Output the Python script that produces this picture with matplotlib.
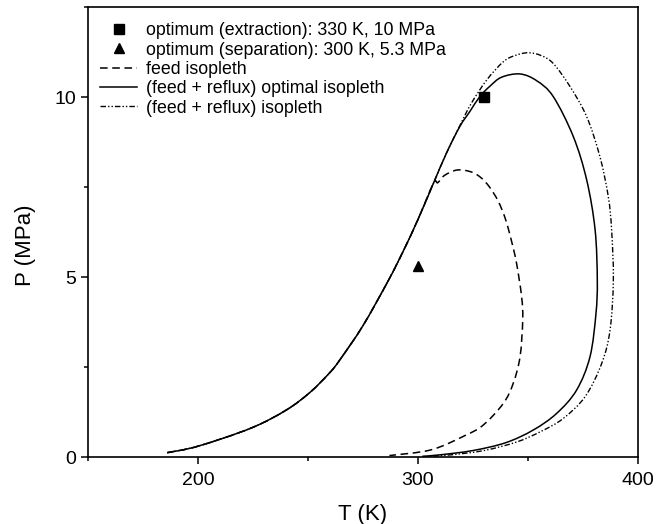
import numpy as np
import matplotlib
matplotlib.use("Agg")
from matplotlib import pyplot as plt
from matplotlib.lines import Line2D
from matplotlib.path import Path
from matplotlib.patches import PathPatch
from matplotlib.ticker import MultipleLocator

plt.rcParams['font.family'] = ['Liberation Sans', 'DejaVu Sans']

# shared branch (low T side)
t_left = [186, 200, 224, 240, 251, 260, 264.5, 275, 286.5, 293.3, 300, 307]
p_left = [0.12, 0.3, 0.8, 1.3, 1.8, 2.35, 2.7, 3.65, 4.9, 5.72, 6.6, 7.6]

# feed isopleth (after it leaves the shared branch)
t_feed = [309, 312, 317.6, 323.6, 328.2, 332.5, 336.5, 339.8, 342.5, 344.8, 347.1,
          347.6, 346.4, 343.3, 338.8, 329.7, 321.5, 306, 287]
p_feed = [7.62, 7.82, 7.97, 7.93, 7.78, 7.5, 7.1, 6.6, 6.0, 5.38, 4.45,
          3.81, 2.79, 2.05, 1.49, 0.89, 0.6, 0.2, 0.04]

# (feed + reflux) optimal isopleth
t_opt = [313, 319, 323.6, 328.2, 332.7, 338, 346.4, 354, 361.5, 370.6, 376.7,
         380.5, 381.5, 380.9, 378.2, 372.1, 363, 352.4, 340, 325, 310, 302]
p_opt = [8.45, 9.18, 9.6, 10.02, 10.3, 10.55, 10.64, 10.45, 10.01, 8.9, 7.69,
         6.31, 4.92, 3.99, 2.79, 1.86, 1.21, 0.75, 0.4, 0.18, 0.06, 0.02]

# (feed + reflux) isopleth
t_ref = [313, 319, 324, 331.2, 338.8, 344, 350.1, 356, 361.5, 369.1, 376.7,
         382.7, 386.5, 388, 388.8, 387.3, 383.5, 376, 366, 356.2, 345, 330, 315, 305]
p_ref = [8.45, 9.2, 9.8, 10.47, 10.98, 11.15, 11.23, 11.15, 10.93, 10.29, 9.45,
         8.34, 7.23, 6.31, 4.92, 3.53, 2.6, 1.68, 1.07, 0.72, 0.42, 0.18, 0.06, 0.02]

opt_extraction = (330, 10)
opt_separation = (300, 5.3)


def smooth_path(t, p):
    # Catmull-Rom through the read points, drawn as cubic Bezier segments
    pts = np.column_stack([t, p]).astype(float)
    ext = np.vstack([pts[0], pts, pts[-1]])
    verts = [pts[0]]
    codes = [Path.MOVETO]
    for i in range(1, len(ext) - 2):
        p0, p1, p2, p3 = ext[i - 1], ext[i], ext[i + 1], ext[i + 2]
        verts += [p1 + (p2 - p0) / 6, p2 - (p3 - p1) / 6, p2]
        codes += [Path.CURVE4] * 3
    return Path(verts, codes)


fig = plt.figure(figsize=(6.63, 5.24), dpi=100)
ax = fig.add_axes([88/663, 1 - 457/524, 550/663, 450/524])

lw = 1.1
dash_feed = (5, 3)
dash_ref = (4, 1.5, 1, 1.5, 1, 1.5)
ax.add_patch(PathPatch(smooth_path(t_left + t_feed, p_left + p_feed), fill=False,
                       edgecolor='black', lw=lw, linestyle=(0, dash_feed)))
ax.add_patch(PathPatch(smooth_path(t_left + t_ref, p_left + p_ref), fill=False,
                       edgecolor='black', lw=lw * 0.9, linestyle=(0, dash_ref)))
ax.add_patch(PathPatch(smooth_path(t_left + t_opt, p_left + p_opt), fill=False,
                       edgecolor='black', lw=lw))
ax.plot(*opt_extraction, marker='s', color='black', ms=6.5, ls='none')
ax.plot(*opt_separation, marker='^', color='black', ms=7, ls='none')

ax.set_xlim(150, 400)
ax.set_ylim(0, 12.5)
ax.xaxis.set_major_locator(MultipleLocator(100))
ax.xaxis.set_minor_locator(MultipleLocator(50))
ax.yaxis.set_major_locator(MultipleLocator(5))
ax.yaxis.set_minor_locator(MultipleLocator(2.5))
ax.tick_params(which='major', direction='out', length=5, width=1.1, labelsize=14)
ax.tick_params(axis='x', which='major', pad=5.5)
ax.tick_params(which='minor', direction='out', length=3.2, width=1.1)
for s in ax.spines.values():
    s.set_linewidth(1.2)

ax.set_xlabel('T (K)', fontsize=16, labelpad=11)
ax.set_ylabel('P (MPa)', fontsize=16)
ax.yaxis.set_label_coords(-0.095, 0.47)

handles = [
    Line2D([], [], marker='s', color='black', ms=6.5, ls='none'),
    Line2D([], [], marker='^', color='black', ms=7, ls='none'),
    Line2D([], [], color='black', lw=lw, dashes=dash_feed),
    Line2D([], [], color='black', lw=lw),
    Line2D([], [], color='black', lw=lw * 0.9, dashes=dash_ref),
]
labels = ['optimum (extraction): 330 K, 10 MPa',
          'optimum (separation): 300 K, 5.3 MPa',
          'feed isopleth',
          '(feed + reflux) optimal isopleth',
          '(feed + reflux) isopleth']
ax.legend(handles, labels, loc='upper left', bbox_to_anchor=(0.022, 0.966),
          frameon=False, fontsize=12.8, borderpad=0, borderaxespad=0,
          labelspacing=0.13, handlelength=2.1, handletextpad=0.5, numpoints=1)

fig.savefig('out.png', dpi=100)
